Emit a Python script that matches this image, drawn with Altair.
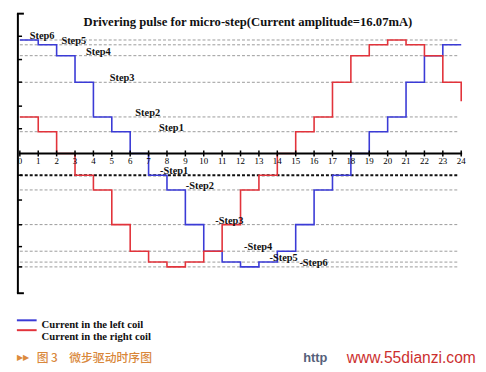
import altair as alt
import pandas as pd

# ---------------- data ----------------
step_names = ["Step1", "Step2", "Step3", "Step4", "Step5", "Step6"]
step_levels = [3.08, 5.17, 10.08, 13.85, 15.39, 16.07]          # mA
left_coil_steps = [6, 5, 4, 3, 2, 1, 0, -1, -2, -3, -4, -5, -6, -5, -4, -3, -2, -1, 0, 1, 2, 3, 4, 5]
right_coil_steps = [2, 1, 0, -1, -2, -3, -4, -5, -6, -5, -4, -3, -2, -1, 0, 1, 2, 3, 4, 5, 6, 5, 4, 3]
right_coil_end = 7.4
upper_label_x = [7.57, 6.28, 4.89, 3.60, 2.26, 0.54]
lower_label_x = [7.62, 9.02, 10.63, 12.19, 13.58, 15.20]
y_tick_values = [16.6, 13.3, 10.1, 6.7, 3.5, -3.08, -6.6, -10.1, -13.2, -16.07]
x_tick_values = list(range(25))
coil_names = ["Current in the left coil", "Current in the right coil"]
coil_colors = ["#3b3bd6", "#e2333b"]
title_text = "Drivering pulse for micro-step(Current amplitude=16.07mA)"

# ---------------- layout ----------------
W, H = 476, 360
PX_X = 18.625            # px per time step
PX_MA = 23.4 / 3.273     # px per mA
x0_px, y0_px = 12, 145   # pixel of the origin inside the view

xs = alt.Scale(domain=[-x0_px / PX_X, (W - x0_px) / PX_X], nice=False, zero=False)
ys = alt.Scale(domain=[-(H - y0_px) / PX_MA, y0_px / PX_MA], nice=False, zero=False)
cs = alt.Scale(domain=coil_names, range=coil_colors)


def level(s):
    if s == 0:
        return 0.0
    v = step_levels[abs(s) - 1]
    return v if s > 0 else -v


rows = []
for name, steps in ((coil_names[0], left_coil_steps), (coil_names[1], right_coil_steps)):
    for i, s in enumerate(steps):
        rows.append({"coil": name, "t": i, "mA": level(s), "i": i})
    rows.append({"coil": name, "t": 24, "mA": level(steps[-1]), "i": 24})
rows.append({"coil": coil_names[1], "t": 24, "mA": right_coil_end, "i": 25})
lines_df = pd.DataFrame(rows)

grid_df = pd.DataFrame({
    "name": step_names + ["-" + n for n in step_names],
    "mA": step_levels + [-v for v in step_levels],
    "lx": upper_label_x + lower_label_x,
})
grid_df["x1"] = 0.0
grid_df["x2"] = 23.8


def X(f):
    return alt.X(f, scale=xs, axis=None)


def Y(f):
    return alt.Y(f, scale=ys, axis=None)


serif = "Liberation Serif"

grid_gray = alt.Chart(grid_df[grid_df["name"] != "-Step1"]).mark_rule(
    color="#9a9a9a", strokeWidth=1, strokeDash=[3, 2]
).encode(x=X("x1:Q"), x2="x2:Q", y=Y("mA:Q"))

grid_black = alt.Chart(grid_df[grid_df["name"] == "-Step1"]).mark_rule(
    color="#111111", strokeWidth=2, strokeDash=[3, 2]
).encode(x=X("x1:Q"), x2="x2:Q", y=Y("mA:Q"))

step_labels = alt.Chart(grid_df).mark_text(
    align="left", baseline="middle", font=serif, fontWeight="bold", fontSize=10.5, dy=-4, color="#111111"
).encode(x=X("lx:Q"), y=Y("mA:Q"), text="name:N")

lines = alt.Chart(lines_df).mark_line(interpolate="step-after", strokeWidth=1.6).encode(
    x=X("t:Q"), y=Y("mA:Q"), color=alt.Color("coil:N", scale=cs, legend=None), order="i:Q"
)

# axes drawn through the same scales
xaxis_df = pd.DataFrame({"x1": [-0.05], "x2": [24.05], "y": [0.0]})
xaxis_line = alt.Chart(xaxis_df).mark_rule(color="black", strokeWidth=2).encode(
    x=X("x1:Q"), x2="x2:Q", y=Y("y:Q")
)
xt_df = pd.DataFrame({"t": x_tick_values, "lab": [str(v) for v in x_tick_values]})
xt_df["y"] = 0.0
xt_df["y1"] = 0.42
xt_df["y2"] = -0.42
xaxis_ticks = alt.Chart(xt_df).mark_rule(color="black", strokeWidth=1.5).encode(
    x=X("t:Q"), y=Y("y1:Q"), y2="y2:Q"
)
xaxis_labels = alt.Chart(xt_df).mark_text(font=serif, fontSize=9, dy=8, color="black").encode(
    x=X("t:Q"), y=Y("y:Q"), text="lab:N"
)

yaxis_df = pd.DataFrame({"x": [-0.107], "y1": [19.8], "y2": [-19.8]})
yaxis_line = alt.Chart(yaxis_df).mark_rule(color="black", strokeWidth=2).encode(
    x=X("x:Q"), y=Y("y1:Q"), y2="y2:Q"
)
yb_df = pd.DataFrame({"mA": [19.8, -19.8], "x1": [-0.16, -0.16], "x2": [0.22, 0.22]})
yaxis_brackets = alt.Chart(yb_df).mark_rule(color="black", strokeWidth=2).encode(
    x=X("x1:Q"), x2="x2:Q", y=Y("mA:Q")
)
yt_df = pd.DataFrame({"mA": y_tick_values})
yt_df["x1"] = -0.107
yt_df["x2"] = 0.12
yaxis_ticks = alt.Chart(yt_df).mark_rule(color="black", strokeWidth=1.5).encode(
    x=X("x1:Q"), x2="x2:Q", y=Y("mA:Q")
)

title = alt.Chart(pd.DataFrame({"t": [title_text]})).mark_text(
    font=serif, fontWeight="bold", fontSize=12.8, color="#111111"
).encode(x=alt.value(243), y=alt.value(12), text="t:N")

leg_df = pd.DataFrame({"coil": coil_names, "c": coil_colors})
leg_left_line = alt.Chart(leg_df.iloc[[0]]).mark_rule(strokeWidth=2, color=coil_colors[0]).encode(
    x=alt.value(9), x2=alt.value(29), y=alt.value(314)
)
leg_right_line = alt.Chart(leg_df.iloc[[1]]).mark_rule(strokeWidth=2, color=coil_colors[1]).encode(
    x=alt.value(9), x2=alt.value(29), y=alt.value(324)
)
leg_left_text = alt.Chart(leg_df.iloc[[0]]).mark_text(
    align="left", baseline="middle", font=serif, fontWeight="bold", fontSize=10.8, color="#111111"
).encode(x=alt.value(34), y=alt.value(319), text="coil:N")
leg_right_text = alt.Chart(leg_df.iloc[[1]]).mark_text(
    align="left", baseline="middle", font=serif, fontWeight="bold", fontSize=10.8, color="#111111"
).encode(x=alt.value(34), y=alt.value(331), text="coil:N")

cap_df = pd.DataFrame({"a": ["▶▶"], "b": ["图 3"], "c": ["微步驱动时序图"], "d": ["http"], "e": ["www.55dianzi.com"]})
cap_arrows = alt.Chart(cap_df).mark_text(align="left", baseline="middle", fontSize=8, color="#dc8a3c").encode(
    x=alt.value(9), y=alt.value(352), text="a:N")
cap_fig = alt.Chart(cap_df).mark_text(align="left", baseline="middle", font="Noto Sans CJK SC", fontSize=12, fontWeight=500, color="#d9873a").encode(
    x=alt.value(29), y=alt.value(352), text="b:N")
cap_title = alt.Chart(cap_df).mark_text(align="left", baseline="middle", font="Noto Sans CJK SC", fontSize=12, fontWeight=500, color="#d9873a").encode(
    x=alt.value(62), y=alt.value(352), text="c:N")
cap_http = alt.Chart(cap_df).mark_text(align="left", baseline="middle", font="Liberation Sans", fontWeight="bold", fontSize=13, color="#56617a").encode(
    x=alt.value(299), y=alt.value(352), text="d:N")
cap_www = alt.Chart(cap_df).mark_text(align="left", baseline="middle", font="Liberation Sans", fontSize=15.8, color="#cc2f2f").encode(
    x=alt.value(343), y=alt.value(352), text="e:N")

chart = alt.layer(
    grid_gray, grid_black, lines, xaxis_line, xaxis_ticks, xaxis_labels,
    yaxis_line, yaxis_brackets, yaxis_ticks, step_labels, title,
    leg_left_line, leg_right_line, leg_left_text, leg_right_text,
    cap_arrows, cap_fig, cap_title, cap_http, cap_www,
).properties(
    width=W, height=H, autosize=alt.AutoSizeParams(type="none"), padding=0
).configure_view(stroke=None)

chart.save("out.html", embed_options={"renderer": "svg", "actions": False})
